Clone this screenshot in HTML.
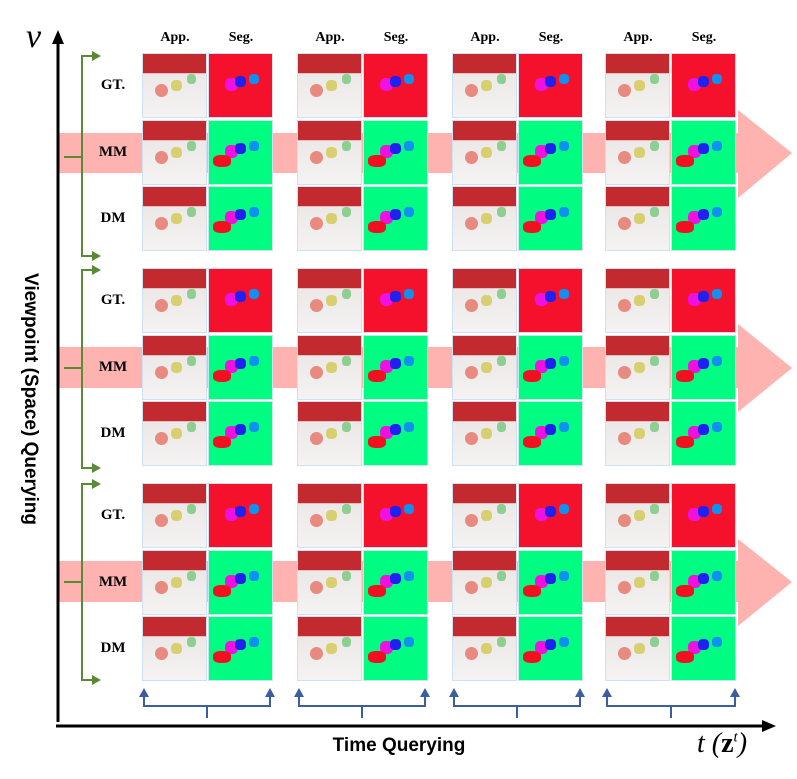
<!DOCTYPE html>
<html><head><meta charset="utf-8"><style>
body{margin:0;background:#fff;width:797px;height:779px;position:relative;overflow:hidden;font-family:"Liberation Serif",serif}
div{position:absolute;box-sizing:border-box}
.tile{width:65px;height:65px;border:1px solid #cfe0f0;overflow:hidden}
.app{background:linear-gradient(#c22a30 0,#c22a30 30%,#ece8e8 31%,#f4f2f2 100%)}
.seg-gt{background:#f5112b}
.seg-p{background:#00fc80}
.blob{border-radius:40%}
.lbl{font-weight:bold;font-size:14px;text-align:center;width:50px}
.row{font-weight:bold;font-size:15px;width:50px;text-align:center}
</style></head><body>
<svg width="797" height="779" style="position:absolute;left:0;top:0">
<g fill="#ffb3b0">
<rect x="58" y="133" width="690" height="40"/><polygon points="738,110 792,153 738,198"/>
<rect x="58" y="347" width="690" height="41"/><polygon points="738,324 792,368 738,412"/>
<rect x="58" y="561" width="690" height="41"/><polygon points="738,539 792,582 738,626"/>
</g>
<line x1="58" y1="722" x2="58" y2="40" stroke="#000" stroke-width="3"/>
<polygon points="58,30 52,44 64,44" fill="#000"/>
<line x1="56" y1="726" x2="766" y2="726" stroke="#000" stroke-width="3"/>
<polygon points="776,726 762,720 762,732" fill="#000"/>
<g stroke="#5b8a35" stroke-width="2" fill="none">
<path d="M96,56 H82 V256 H96 M82,157 H64"/>
<path d="M96,270 H82 V468 H96 M82,368 H64"/>
<path d="M96,484 H82 V680 H96 M82,582 H64"/>
</g>
<g fill="#5b8a35">
<polygon points="101,56 92,51 92,61"/><polygon points="101,256 92,251 92,261"/>
<polygon points="101,270 92,265 92,275"/><polygon points="101,468 92,463 92,473"/>
<polygon points="101,484 92,479 92,489"/><polygon points="101,680 92,675 92,685"/>
</g>
<g stroke="#3a5ea0" stroke-width="2" fill="none">
<path d="M144,695 V706 H270 V695 M207,706 V718"/>
<path d="M299,695 V706 H425 V695 M362,706 V718"/>
<path d="M454,695 V706 H580 V695 M517,706 V718"/>
<path d="M607,695 V706 H735 V695 M671,706 V718"/>
</g>
<g fill="#3a5ea0">
<polygon points="144,688 139,697 149,697"/><polygon points="270,688 265,697 275,697"/>
<polygon points="299,688 294,697 304,697"/><polygon points="425,688 420,697 430,697"/>
<polygon points="454,688 449,697 459,697"/><polygon points="580,688 575,697 585,697"/>
<polygon points="607,688 602,697 612,697"/><polygon points="735,688 730,697 740,697"/>
</g>
</svg>
<div style="left:26px;top:18px;font-size:34px;font-style:italic">v</div>
<div style="left:697px;top:728px;font-size:28px;font-style:italic;white-space:nowrap">t (<b style="font-style:normal">z</b><sup style="font-size:15px">t</sup>)</div>
<div style="left:264px;top:735px;width:270px;text-align:center;font-family:'Liberation Sans',sans-serif;font-weight:bold;font-size:19px">Time Querying</div>
<div style="left:-115px;top:388px;width:290px;text-align:center;font-family:'Liberation Sans',sans-serif;font-weight:bold;font-size:19px;transform:rotate(90deg)">Viewpoint (Space) Querying</div>
<div id="grid"></div>
<script>
const colX=[142,297,452,605];
const groupY=[53,268,483];
const rowOff=[0,67,133];
const rowNames=['GT.','MM','DM'];
const root=document.body;
colX.forEach((x,ci)=>{
  const a=document.createElement('div');a.className='lbl';a.style.left=(x+8)+'px';a.style.top='30px';a.textContent='App.';
  
  
  root.appendChild(a);
  const s=document.createElement('div');s.className='lbl';s.style.left=(x+74)+'px';s.style.top='30px';s.textContent='Seg.';
  
  
  root.appendChild(s);
});
groupY.forEach((gy,gi)=>{
  rowOff.forEach((ro,ri)=>{
    const y=gy+ro;
    const l=document.createElement('div');l.className='row';l.style.left='88px';l.style.top=(y+24)+'px';l.textContent=rowNames[ri];
    
    
    root.appendChild(l);
    colX.forEach((x,ci)=>{
      const ap=document.createElement('div');ap.className='tile app';ap.style.left=x+'px';ap.style.top=y+'px';
      
      
      ap.innerHTML='<div class="blob" style="left:12px;top:30px;width:13px;height:13px;background:#e88a80;border-radius:50%"></div><div class="blob" style="left:28px;top:26px;width:11px;height:11px;background:#d8d070"></div><div class="blob" style="left:44px;top:20px;width:9px;height:10px;background:#8ccf90"></div>';
      root.appendChild(ap);
      const sg=document.createElement('div');sg.className='tile '+(ri===0?'seg-gt':'seg-p');sg.style.left=(x+66)+'px';sg.style.top=y+'px';
      
      
      sg.innerHTML='<div class="blob" style="left:16px;top:24px;width:13px;height:13px;background:#f010e0"></div><div class="blob" style="left:26px;top:22px;width:11px;height:11px;background:#2020f0"></div><div class="blob" style="left:40px;top:20px;width:10px;height:10px;background:#1090f0"></div>'+(ri>0?'<div class="blob" style="left:4px;top:34px;width:18px;height:12px;background:#f01020"></div>':'');
      root.appendChild(sg);
    });
  });
});
</script>
</body></html>
